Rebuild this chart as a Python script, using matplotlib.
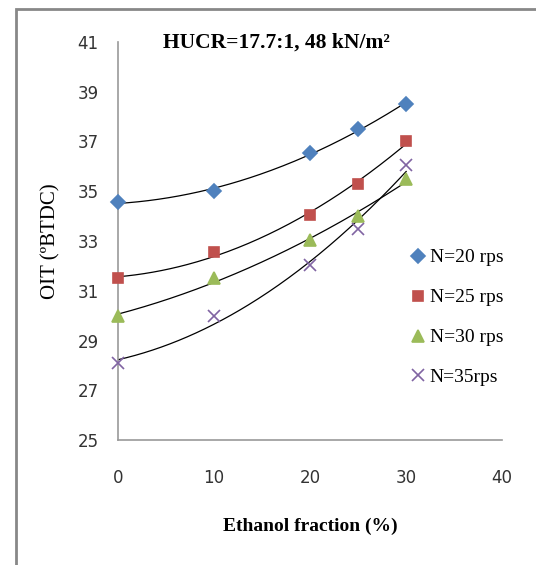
import numpy as np
import matplotlib
matplotlib.use("Agg")
from matplotlib import pyplot as plt
from matplotlib.patches import Rectangle

ethanol = [0, 10, 20, 25, 30]
oit_20 = [34.55, 35.0, 36.55, 37.5, 38.5]
oit_25 = [31.5, 32.55, 34.05, 35.3, 37.0]
oit_30 = [30.0, 31.5, 33.05, 34.0, 35.5]
oit_35 = [28.1, 30.0, 32.05, 33.5, 36.05]

series = [
    ("N=20 rps", oit_20, "D", "#4F81BD", 7),
    ("N=25 rps", oit_25, "s", "#C0504D", 7),
    ("N=30 rps", oit_30, "^", "#9BBB59", 8),
    ("N=35rps", oit_35, "x", "#8064A2", 9),
]

fig = plt.figure(figsize=(5.36, 5.65), dpi=100)
ax = fig.add_axes([0.220, 0.221, 0.717, 0.705])

xs = np.linspace(0, 30, 200)
for label, vals, mk, col, ms in series:
    # excel-style 2nd order trendline
    coef = np.polyfit(ethanol, vals, 2)
    ax.plot(xs, np.polyval(coef, xs), color="black", lw=0.9, zorder=2)
    ax.plot(ethanol, vals, linestyle="none", marker=mk, color=col, ms=ms,
            mew=1.2, label=label, zorder=3, clip_on=False)

ax.set_xlim(0, 40)
ax.set_ylim(25, 41)
ax.set_xticks([0, 10, 20, 30, 40])
ax.set_yticks(range(25, 42, 2))
ax.tick_params(length=0, labelsize=12, labelcolor="#333333", pad=14)
ax.tick_params(axis="x", pad=21)
for s in ["top", "right"]:
    ax.spines[s].set_visible(False)
for s in ["left", "bottom"]:
    ax.spines[s].set_color("#999999")
    ax.spines[s].set_linewidth(1.2)

ax.set_xlabel("Ethanol fraction (%)", family="Liberation Serif",
              fontweight="bold", fontsize=14, labelpad=22)
ax.set_ylabel("OIT (\u00baBTDC)", family="Liberation Serif", fontsize=15,
              labelpad=12)
fig.text(0.515, 0.925, "HUCR=17.7:1, 48 kN/m\u00b2", family="Liberation Serif",
         fontweight="bold", fontsize=15.5, ha="center", va="center")

leg = ax.legend(loc="upper left", bbox_to_anchor=(0.745, 0.5), frameon=False,
                prop={"family": "Liberation Serif", "size": 14},
                handlelength=0.6, handletextpad=0.3, labelspacing=1.15,
                borderaxespad=0)

fig.patches.append(Rectangle((16 / 536, -0.1), 1.2, 1.1 - 9 / 565,
                             transform=fig.transFigure, fill=False,
                             edgecolor="#888888", lw=2))

fig.savefig("out.png", dpi=100)
